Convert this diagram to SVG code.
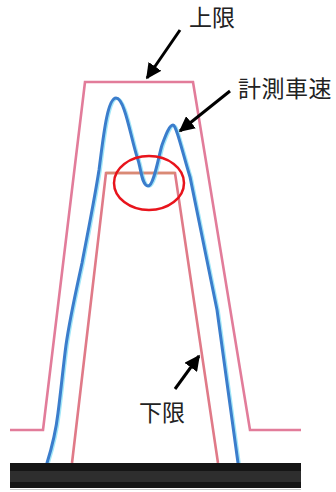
<svg xmlns="http://www.w3.org/2000/svg" width="336" height="492" viewBox="0 0 336 492">
<style>
.lim{fill:none;stroke:#e27c9a;stroke-width:2.6;stroke-linejoin:miter}
.low{fill:none;stroke:#e07a88;stroke-width:2.6}
.spd{fill:none;stroke:#3b7dcc;stroke-width:3;stroke-linecap:round}
.fringe{fill:none;stroke:#55d4f2;stroke-width:2.5;opacity:0.55}
.arr{stroke:#000;stroke-width:3;fill:none}
.lbl{font-family:"Noto Sans CJK JP","Noto Sans CJK SC",sans-serif;font-size:23px;fill:#222}
</style>
<defs>
<marker id="ah" viewBox="0 0 10 10" refX="9" refY="5" markerWidth="5.2" markerHeight="5.2" orient="auto" markerUnits="strokeWidth">
<path d="M0,0 L10,5 L0,10 Z" fill="#000"/>
</marker>
<path id="speed-path" d="M47,463 C52,447 56,430 58,413 C61,390 63,368 66,345 C70,317 76,291 82,263 C88,231 94,202 99,170 C103,140 107,98 116,98 C125,98 131,140 138,160 C141,169 142,186 148,186 C154,186 159,154 162,145 C165,137 169,125 173,125 C176,124 184,158 190,177 C199,221 208,266 217,310 C224,361 231,412 238,463"/>
</defs>
<rect width="336" height="492" fill="#fff"/>
<g id="chart">
<path id="upper-limit" class="lim" d="M10,430 L43,430 L85,82 L193,82 L250,430 L301,430"/>
<path id="lower-limit" class="low" d="M72,463 L106,173 L175,173 L218,463"/>
<path id="lower-limit-top" fill="none" stroke="#d98a74" stroke-width="2.6" d="M106,173 L175,173"/>
<use href="#speed-path" class="fringe" transform="translate(1.6,0.5)"/>
<use id="speed" href="#speed-path" class="spd"/>
<ellipse id="highlight" cx="149" cy="183" rx="35" ry="27" fill="none" stroke="#e8141c" stroke-width="2.5"/>
<g id="ground">
<rect x="10" y="463" width="291" height="25" fill="#151515"/>
<rect x="10" y="471" width="291" height="11" fill="#2e2e2e"/>
<line x1="10" y1="489.5" x2="301" y2="489.5" stroke="#c8c8c8" stroke-width="1"/>
</g>
</g>
<g id="connectors">
<line class="arr" x1="180" y1="30" x2="147" y2="78" marker-end="url(#ah)"/>
<line class="arr" x1="230" y1="91" x2="180" y2="131" marker-end="url(#ah)"/>
<line class="arr" x1="175" y1="389" x2="199" y2="356" marker-end="url(#ah)"/>
</g>
<g id="label-upper"><text class="lbl" x="189" y="26">上限</text></g>
<g id="label-speed"><text class="lbl" x="238" y="97" letter-spacing="0.5">計測車速</text></g>
<g id="label-lower"><text class="lbl" x="139" y="421">下限</text></g>
</svg>
